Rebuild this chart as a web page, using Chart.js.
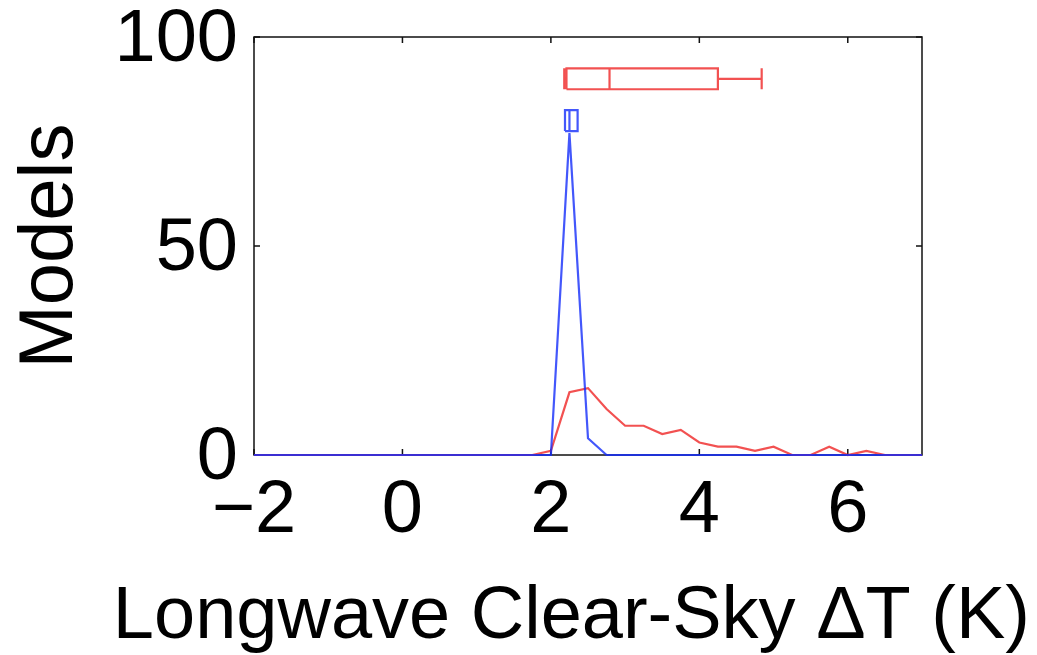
<!DOCTYPE html>
<html>
<head>
<meta charset="utf-8">
<script src="https://cdn.jsdelivr.net/npm/chart.js@4/dist/chart.umd.min.js"></script>
<style>
  html, body { margin: 0; padding: 0; background: #fff; }
  #wrap { width: 1037px; height: 655px; }
</style>
</head>
<body>
<div id="wrap"><canvas id="chart"></canvas></div>
<script>
// tick labels
const xTicks = [-2, 0, 2, 4, 6];
const yTicks = [0, 50, 100];

// histogram lines (bin centre, number of models)
const redX = [-2, 1.75, 2.0, 2.25, 2.5, 2.75, 3.0, 3.25, 3.5, 3.75, 4.0, 4.25, 4.5, 4.75, 5.0, 5.25, 5.5, 5.75, 6.0, 6.25, 6.5, 7];
const redCount = [0, 0, 1, 15, 16, 11, 7, 7, 5, 6, 3, 2, 2, 1, 2, 0, 0, 2, 0, 1, 0, 0];
const blueX = [-2, 2.0, 2.25, 2.5, 2.75, 7];
const blueCount = [0, 0, 77, 4, 0, 0];

// box plots: min, q1, median, q3, max
const redStats = [2.18, 2.21, 2.79, 4.25, 4.84];
const blueStats = [2.19, 2.19, 2.25, 2.36, 2.36];
const redBoxLevel = 90;
const blueBoxLevel = 80;

const RED = "rgba(240, 50, 50, 0.85)";
const BLUE = "rgba(20, 45, 250, 0.8)";
const BOX_HALF = 2.5;
const FONT = "'Liberation Sans', Arial, Helvetica, sans-serif";

function linePoints(xs, ys) {
  return xs.map((v, i) => ({ x: v, y: ys[i] }));
}

// outline of a box plot, pieces split with null so they are not joined
function boxPoints(stats, level) {
  const [lo, q1, med, q3, hi] = stats;
  const t = level + BOX_HALF, b = level - BOX_HALF;
  const gap = { x: med, y: null };
  return [
    { x: q1, y: b }, { x: q3, y: b }, { x: q3, y: t }, { x: q1, y: t }, { x: q1, y: b }, gap,
    { x: med, y: b }, { x: med, y: t }, gap,
    { x: q3, y: level }, { x: hi, y: level }, gap,
    { x: hi, y: b }, { x: hi, y: t }, gap,
    { x: lo, y: level }, { x: q1, y: level }, gap,
    { x: lo, y: b }, { x: lo, y: t }
  ];
}

function lineSet(data, color) {
  return {
    data: data,
    borderColor: color,
    borderWidth: 2.2,
    pointRadius: 0,
    tension: 0,
    spanGaps: false,
    clip: false
  };
}

const framePlugin = {
  id: "frame",
  beforeDatasetsDraw(chart) {
    const { ctx, chartArea: a, scales: { x, y } } = chart;
    ctx.save();
    ctx.strokeStyle = "#111";
    ctx.lineWidth = 1.5;
    ctx.strokeRect(a.left, a.top, a.right - a.left, a.bottom - a.top);
    ctx.beginPath();
    xTicks.forEach(v => {
      const px = x.getPixelForValue(v);
      ctx.moveTo(px, a.bottom); ctx.lineTo(px, a.bottom - 6);
      ctx.moveTo(px, a.top); ctx.lineTo(px, a.top + 6);
    });
    yTicks.forEach(v => {
      const py = y.getPixelForValue(v);
      ctx.moveTo(a.left, py); ctx.lineTo(a.left + 6, py);
      ctx.moveTo(a.right, py); ctx.lineTo(a.right - 6, py);
    });
    ctx.stroke();
    ctx.restore();
  },
  afterDraw(chart) {
    const ctx = chart.ctx;
    ctx.save();
    ctx.font = "74px " + FONT;
    ctx.fillStyle = "#000";
    ctx.textAlign = "right";
    ctx.textBaseline = "alphabetic";
    ctx.fillText("Longwave Clear-Sky \u0394T (K)", chart.width - 7, 638);
    ctx.restore();
  }
};

new Chart(document.getElementById("chart"), {
  type: "line",
  data: {
    datasets: [
      lineSet(linePoints(blueX, blueCount), BLUE),
      lineSet(boxPoints(blueStats, blueBoxLevel), BLUE),
      lineSet(linePoints(redX, redCount), RED),
      lineSet(boxPoints(redStats, redBoxLevel), RED)
    ]
  },
  options: {
    responsive: true,
    maintainAspectRatio: false,
    animation: false,
    layout: { padding: { top: 37, right: 115, bottom: 0, left: 0 } },
    plugins: { legend: { display: false }, tooltip: { enabled: false } },
    scales: {
      x: {
        type: "linear",
        min: -2,
        max: 7,
        grid: { display: false, drawTicks: false },
        border: { display: false },
        afterBuildTicks: scale => { scale.ticks = xTicks.map(v => ({ value: v })); },
        afterFit: scale => { scale.height = 200; scale.paddingLeft = 0; scale.paddingRight = 0; },
        ticks: {
          padding: 20,
          color: "#000",
          font: { family: FONT, size: 74, lineHeight: 1 },
          maxRotation: 0,
          callback: v => String(v).replace("-", "\u2212")
        }
      },
      y: {
        min: 0,
        max: 100,
        grid: { display: false, drawTicks: false },
        border: { display: false },
        afterBuildTicks: scale => { scale.ticks = yTicks.map(v => ({ value: v })); },
        afterFit: scale => { scale.width = 254; scale.paddingTop = 0; scale.paddingBottom = 0; },
        title: {
          display: true,
          text: "Models",
          color: "#000",
          font: { family: FONT, size: 76, lineHeight: 1 },
          padding: { top: 13, bottom: 0 }
        },
        ticks: {
          padding: 16,
          labelOffset: 4,
          color: "#000",
          font: { family: FONT, size: 74, lineHeight: 1 }
        }
      }
    }
  },
  plugins: [framePlugin]
});
</script>
</body>
</html>
